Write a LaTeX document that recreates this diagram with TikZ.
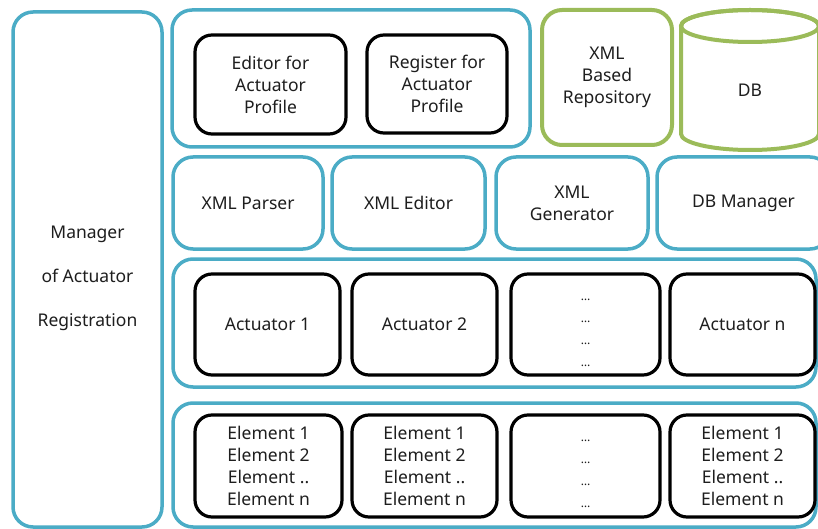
\documentclass[tikz,border=0pt]{standalone}
\usepackage{fontspec}
\setmainfont{Noto Sans}
\definecolor{cblue}{HTML}{4BACC6}
\definecolor{cgreen}{HTML}{9BBB59}
\definecolor{ctext}{HTML}{1E1E1E}
\begin{document}
\begin{tikzpicture}[x=1pt,y=-1pt,
  every node/.style={inner sep=0pt, outer sep=0pt, text=ctext},
  bluebox/.style={draw=cblue, line width=3.5pt, rounded corners=20pt, fill=white},
  greenbox/.style={draw=cgreen, line width=4pt, rounded corners=20pt, fill=white},
  blackbox/.style={draw=black, line width=3.2pt, rounded corners=17pt, fill=white},
  lbl/.style={font=\fontsize{17.5}{22}\selectfont, align=center},
  dotlbl/.style={font=\fontsize{12}{22}\selectfont, align=center}]
\useasboundingbox (0,0) rectangle (818,529);
\begin{scope}
\clip (0,0) rectangle (818,529);
% left manager box
\node[bluebox, minimum width=149pt, minimum height=515pt] (mgr) at (87.5,269.5) {};
\node[lbl, font=\fontsize{17.5}{44}\selectfont] (mgrtxt) at (87.5,278) {Manager\\of Actuator\\Registration};
% top container
\node[bluebox, minimum width=358pt, minimum height=137pt] (top) at (351,78.5) {};
\node[blackbox, lbl, minimum width=151pt, minimum height=99pt] (edit) at (270.5,84.5) {Editor for\\Actuator\\Profile};
\node[blackbox, lbl, minimum width=140pt, minimum height=98pt] (reg) at (437,84) {Register for\\Actuator\\Profile};
\node[greenbox, lbl, minimum width=130pt, minimum height=135pt] (repo) at (607,77.5) {XML\\Based\\Repository};
% DB cylinder
\draw[cgreen, line width=4pt, fill=white] (681,26) -- (681,134)
  arc[start angle=180, end angle=0, x radius=69, y radius=16] -- (819,26)
  arc[start angle=0, end angle=-180, x radius=69, y radius=16] -- cycle;
\draw[cgreen, line width=4pt] (750,26) ellipse[x radius=69, y radius=16];
\node[lbl] (db) at (750,90) {DB};
% row 2
\node[bluebox, lbl, minimum width=150pt, minimum height=92pt] (parser) at (248,203) {XML Parser};
\node[bluebox, lbl, minimum width=153pt, minimum height=92pt] (xedit) at (408.5,203) {XML Editor};
\node[bluebox, lbl, minimum width=152pt, minimum height=92pt] (gen) at (572,203) {XML\\Generator};
\node[bluebox, lbl, minimum width=173pt, minimum height=92pt] (dbm) at (743.5,203) {DB Manager};
% row 3
\node[bluebox, minimum width=643pt, minimum height=128pt] (acts) at (494.5,323) {};
\node[blackbox, lbl, minimum width=145pt, minimum height=101pt] (a1) at (267.5,324.5) {Actuator 1};
\node[blackbox, lbl, minimum width=145pt, minimum height=101pt] (a2) at (424.5,324.5) {Actuator 2};
\node[blackbox, minimum width=149pt, minimum height=101pt] (adots) at (585.5,324.5) {};
\node[dotlbl] (adotstxt) at (585.5,333) {…\\…\\…\\…};
\node[blackbox, lbl, minimum width=145pt, minimum height=101pt] (an) at (742.5,324.5) {Actuator n};
% row 4
\node[bluebox, minimum width=643pt, minimum height=124pt] (elems) at (494.5,465) {};
\node[blackbox, lbl, minimum width=147pt, minimum height=102pt] (e1) at (268.5,466) {Element 1\\Element 2\\Element ..\\Element n};
\node[blackbox, lbl, minimum width=145pt, minimum height=102pt] (e2) at (424.5,466) {Element 1\\Element 2\\Element ..\\Element n};
\node[blackbox, minimum width=149pt, minimum height=102pt] (edots) at (585.5,466) {};
\node[dotlbl] (edotstxt) at (585.5,474) {…\\…\\…\\…};
\node[blackbox, lbl, minimum width=145pt, minimum height=102pt] (en) at (742.5,466) {Element 1\\Element 2\\Element ..\\Element n};
\end{scope}
\end{tikzpicture}
\end{document}
